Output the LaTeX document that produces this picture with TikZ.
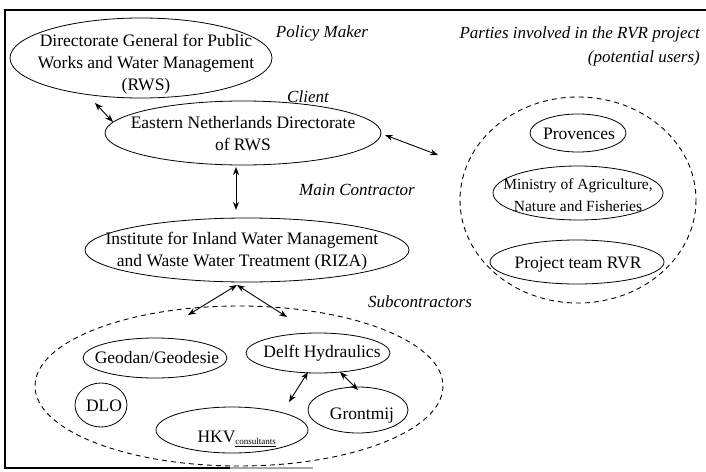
\documentclass[tikz,border=0pt]{standalone}
\usepackage{fontspec}
\setmainfont{Liberation Serif}
\usetikzlibrary{shapes.geometric,arrows.meta}
\begin{document}
\begin{tikzpicture}[x=1pt,y=-1pt,
  org/.style={inner sep=0pt,align=center,font=\fontsize{17.5}{22}\selectfont},
  orgline/.style={line width=0.8pt},
  role/.style={inner sep=0pt,font=\itshape\fontsize{17}{24}\selectfont},
  group/.style={line width=0.9pt,dash pattern=on 5pt off 4pt},
  link/.style={{Stealth[length=8pt,width=6pt]}-{Stealth[length=8pt,width=6pt]},line width=0.9pt},
  frameline/.style={line width=1.6pt}]
\useasboundingbox (0,0) rectangle (706,471);
% partial frame
\draw[frameline] (706,10) -- (5,10) -- (5,468) -- (230,468);
\draw[frameline,black!35] (230,468) -- (313,468);
% groups (dashed ellipses)
\draw[group] (239,386) ellipse [x radius=204, y radius=80];
\draw[group] (578,200) ellipse [x radius=118, y radius=103];
% organisations: text nodes with their ellipses
\node[org] (dg) at (146,64) {Directorate General for Public\\Works and Water Management\\(RWS)};
\draw[orgline] (141,58) ellipse [x radius=131, y radius=40];
\node[org] (en) at (243,134) {Eastern Netherlands Directorate\\of RWS};
\draw[orgline] (243,133) ellipse [x radius=138, y radius=32];
\node[org] (riza) at (242,251) {Institute for Inland Water Management\\and Waste Water Treatment (RIZA)};
\draw[orgline] (247,250) ellipse [x radius=162, y radius=32];
\node[org] (geo) at (157,358) {Geodan/Geodesie};
\draw[orgline] (155,358) ellipse [x radius=72, y radius=20];
\node[org] (delft) at (322,353) {Delft Hydraulics};
\draw[orgline] (318,353) ellipse [x radius=72, y radius=20];
\node[org] (dlo) at (104,406) {DLO};
\draw[orgline] (101,405) ellipse [x radius=26, y radius=22];
\node[org,anchor=base] (hkv) at (237,442) {HKV\textsubscript{\fontsize{9}{10}\selectfont\underline{consultants}}};
\draw[orgline] (232,430) ellipse [x radius=76, y radius=23];
\node[org,anchor=base] (gront) at (362,419) {Grontmij};
\draw[orgline] (358,410) ellipse [x radius=50, y radius=23];
\node[org] (prov) at (579,134) {Provences};
\draw[orgline] (578,133) ellipse [x radius=48, y radius=19];
\node[org,font=\fontsize{15.5}{22}\selectfont] (min) at (578,195) {Ministry of Agriculture,\\Nature and Fisheries};
\draw[orgline] (578,193) ellipse [x radius=85, y radius=27];
\node[org] (team) at (578,265) {Project team RVR};
\draw[orgline] (577,262) ellipse [x radius=87, y radius=22];
% role labels
\node[role] (lpolicy) at (322,33) {Policy Maker};
\node[role] (lclient) at (308,97) {Client};
\node[role] (lmain) at (357,190) {Main Contractor};
\node[role] (lsub) at (420,302) {Subcontractors};
\node[role,align=right,anchor=north east] (lparties) at (700,27) {Parties involved in the RVR project\\(potential users)};
% connector end points
\coordinate (c1) at (95,103);
\coordinate (c2) at (113,122);
\coordinate (c3) at (236,167);
\coordinate (c4) at (236,210);
\coordinate (c5) at (385,135);
\coordinate (c6) at (438,155);
\coordinate (c7) at (237,285);
\coordinate (c8) at (188,315);
\coordinate (c9) at (287,317);
\coordinate (c10) at (308,372);
\coordinate (c11) at (289,402);
\coordinate (c12) at (340,372);
\coordinate (c13) at (358,390);
% connectors
\draw[link] (c1) -- (c2);
\draw[link] (c3) -- (c4);
\draw[link] (c5) -- (c6);
\draw[link] (c7) -- (c8);
\draw[link] (c7) -- (c9);
\draw[link] (c10) -- (c11);
\draw[link] (c12) -- (c13);
\end{tikzpicture}
\end{document}
